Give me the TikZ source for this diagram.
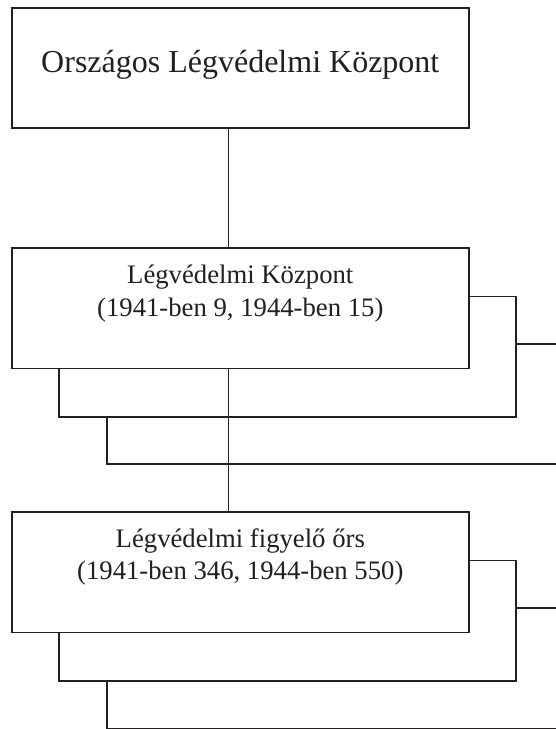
\documentclass[tikz,border=0pt]{standalone}
\usepackage{fontspec}
\setmainfont{Liberation Serif}
\usetikzlibrary{calc}
\definecolor{ink}{RGB}{35,31,32}
\tikzset{
  box/.style={draw=ink, line width=1.8pt, fill=white, rectangle, minimum width=457.3pt, minimum height=120.4pt, inner sep=0pt},
  frame/.style={draw=ink, line width=1.8pt},
  conn/.style={draw=ink, line width=1.8pt},
  bigtxt/.style={anchor=base, inner sep=0pt, font=\fontsize{32}{38}\selectfont, text=ink},
  txt/.style={anchor=base, inner sep=0pt, font=\fontsize{26.7}{32}\selectfont, text=ink}
}
\begin{document}
\begin{tikzpicture}[x=1pt,y=1pt]
\useasboundingbox (0,0) rectangle (556,-729);
\clip (0,0) rectangle (556,-729);
\fill[white] (0,0) rectangle (556,-729);
\coordinate (spine) at (228.4,0);
% boxes
\node[box] (top) at (240.3,-68) {};
\node[box] (b2) at (240.3,-308.2) {};
\node[box] (b3) at (240.3,-572.3) {};
% texts
\node[bigtxt] (ttop) at (240.3,-72.7) {Országos Légvédelmi Központ};
\node[txt] (t2a) at (240.3,-283.3) {Légvédelmi Központ};
\node[txt] (t2b) at (240.3,-316) {(1941-ben 9, 1944-ben 15)};
\node[txt] (t3a) at (240.3,-547) {Légvédelmi figyelő őrs};
\node[txt] (t3b) at (240.3,-579.5) {(1941-ben 346, 1944-ben 550)};
% stacked frames behind boxes
\foreach \b in {b2,b3}{
  \draw[frame] ($(\b.south west)+(48.3,0)$) -- ++(0,-47.5) -- ++(457.3,0) -- ++(0,120.4) -- ++(-48.3,0);
  \draw[frame] ($(\b.south west)+(96.6,-47.5)$) -- ++(0,-47.5) -- ++(457.3,0) -- ++(0,120.4) -- ++(-48.3,0);
}
% connectors
\draw[conn] (top.south -| spine) -- (b2.north -| spine);
\draw[conn] (b2.south -| spine) -- (b3.north -| spine);
\end{tikzpicture}
\end{document}
